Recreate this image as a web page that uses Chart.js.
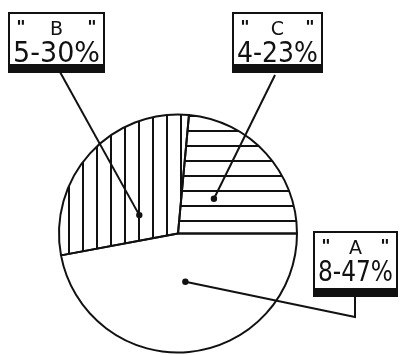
<!DOCTYPE html>
<html>
<head>
<meta charset="utf-8">
<script src="https://cdn.jsdelivr.net/npm/chart.js@4.4.0/dist/chart.umd.min.js"></script>
<style>
	html, body { margin: 0; padding: 0; background: #fff; }
	#wrap { width: 402px; height: 355px; position: relative; }
</style>
</head>
<body>
<div id="wrap"><canvas id="pie"></canvas></div>
<script>
const labels = ['A', 'B', 'C'];
const counts = [8, 5, 4];
const percents = [47, 30, 23];

const ink = '#111';

// where the hand-drawn tags sit, and where on each slice the pointer dot goes
const tags = {
	A: { box: [314, 232, 83, 57], dot: [0.48, 0.41], path: [[355, 317], [355, 297]] },
	B: { box: [9, 13, 95, 52], dot: [0.34, 0.36], path: [[60, 72]] },
	C: { box: [233, 13, 89, 52], dot: [0.48, 0.42], path: [[275, 75]] }
};

const stripes = (vertical, step, offset) => {
	const c = document.createElement('canvas');
	c.width = vertical ? step : 4;
	c.height = vertical ? 4 : step;
	const g = c.getContext('2d');
	g.fillStyle = ink;
	if (vertical) g.fillRect(offset, 0, 2, 4);
	else g.fillRect(0, offset, 4, 2);
	return g.createPattern(c, 'repeat');
};

const fills = {
	A: '#ffffff',
	B: stripes(true, 14, 12),
	C: stripes(false, 15, 10)
};

const tagPlugin = {
	id: 'tags',
	afterDatasetsDraw: chart => {
		const ctx = chart.ctx;
		const arcs = chart.getDatasetMeta(0).data;
		ctx.save();
		labels.forEach((name, i) => {
			const arc = arcs[i];
			const t = tags[name];
			const a = arc.startAngle + t.dot[0] * (arc.endAngle - arc.startAngle);
			const r = t.dot[1] * arc.outerRadius;
			const dx = arc.x + Math.cos(a) * r;
			const dy = arc.y + Math.sin(a) * r;

			ctx.strokeStyle = ink;
			ctx.lineWidth = 2;
			ctx.beginPath();
			ctx.moveTo(dx, dy);
			t.path.forEach(p => ctx.lineTo(p[0], p[1]));
			ctx.stroke();
			ctx.fillStyle = ink;
			ctx.beginPath();
			ctx.arc(dx, dy, 3.2, 0, Math.PI * 2);
			ctx.fill();

			const [bx, by, bw, bh] = t.box;
			ctx.fillStyle = '#fff';
			ctx.fillRect(bx, by, bw, bh);
			ctx.fillStyle = ink;
			ctx.fillRect(bx - 1, by + bh, bw + 2, 8);
			ctx.lineWidth = 2;
			ctx.strokeRect(bx, by, bw, bh);

			ctx.textBaseline = 'alphabetic';
			ctx.textAlign = 'center';
			ctx.font = 'bold 18px "DejaVu Sans"';
			ctx.fillText('"', bx + 12, by + 20);
			ctx.fillText('"', bx + bw - 12, by + 20);
			ctx.font = '19px "DejaVu Sans"';
			ctx.fillText(name, bx + bw / 2, by + 22);
			ctx.font = '29px "DejaVu Sans"';
			ctx.fillText(`${counts[i]}-${percents[i]}%`, bx + bw / 2, by + 49, bw - 8);
		});
		ctx.restore();
	}
};

new Chart(document.getElementById('pie'), {
	type: 'pie',
	data: {
		labels,
		datasets: [{
			data: counts,
			backgroundColor: labels.map(l => fills[l]),
			borderColor: ink,
			borderWidth: 2,
			borderAlign: 'center'
		}]
	},
	options: {
		responsive: true,
		maintainAspectRatio: false,
		animation: false,
		rotation: 90,
		layout: { padding: { left: 58, right: 104, top: 113, bottom: 1 } },
		plugins: {
			legend: { display: false },
			tooltip: { enabled: false }
		}
	},
	plugins: [tagPlugin]
});
</script>
</body>
</html>
